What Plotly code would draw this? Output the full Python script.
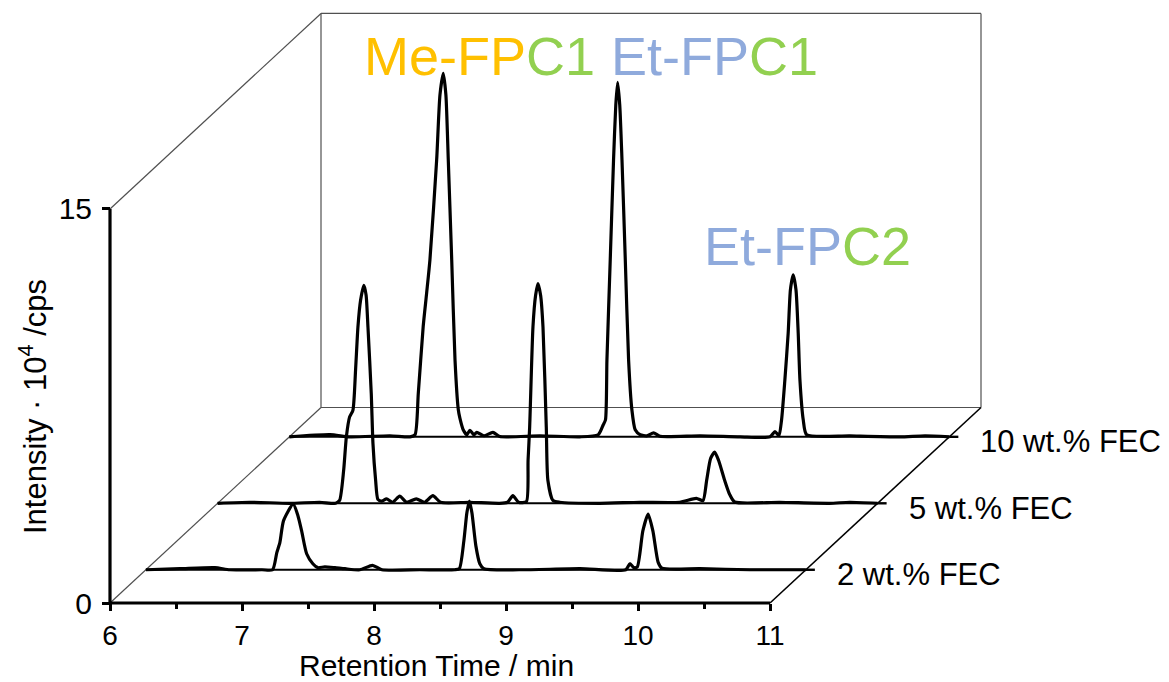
import plotly.graph_objects as go

# ---------------- data (retention time in min, intensity in 10^4 cps) ----------------
series_names = ["2 wt.% FEC", "5 wt.% FEC", "10 wt.% FEC"]
series_depth = [0.17, 0.51, 0.85]   # position along depth axis (fraction)

x_2 = [6.000, 6.258, 6.523, 6.636, 6.879, 6.960, 6.992, 7.015, 7.043, 7.116, 7.152, 7.180,
       7.218, 7.265, 7.303, 7.356, 7.432, 7.508, 7.621, 7.717, 7.788, 8.076, 8.341, 8.375,
       8.409, 8.432, 8.451, 8.470, 8.500, 8.530, 8.561, 8.833, 9.288, 9.636, 9.667, 9.697,
       9.723, 9.765, 9.805, 9.841, 9.881, 9.909, 10.197, 10.576, 11.000]
y_2 = [0.00, 0.04, 0.08, 0.00, 0.00, 0.00, 0.65, 1.03, 1.87, 2.50, 2.06, 1.48,
       0.61, 0.23, 0.08, 0.11, 0.08, 0.04, 0.00, 0.17, 0.00, 0.00, 0.00, 0.04,
       1.10, 2.17, 2.61, 2.17, 0.91, 0.23, 0.04, 0.00, 0.04, 0.00, 0.23, 0.08,
       0.11, 1.48, 2.12, 1.48, 0.28, 0.06, 0.04, 0.00, 0.00]

x_5 = [6.000, 6.242, 6.545, 6.773, 6.894, 6.924, 6.955, 6.975, 7.000, 7.025, 7.045, 7.063,
       7.083, 7.108, 7.125, 7.139, 7.164, 7.177, 7.197, 7.214, 7.242, 7.280, 7.326, 7.379,
       7.432, 7.505, 7.568, 7.631, 7.689, 7.909, 8.136, 8.197, 8.237, 8.280, 8.339, 8.352,
       8.364, 8.389, 8.409, 8.427, 8.447, 8.465, 8.490, 8.502, 8.540, 8.591, 8.894, 9.197,
       9.500, 9.627, 9.677, 9.705, 9.735, 9.765, 9.795, 9.841, 9.879, 9.917, 10.258, 10.636,
       10.788, 11.000]
y_5 = [0.00, 0.04, 0.00, 0.04, 0.00, 0.11, 1.26, 2.51, 3.29, 3.54, 5.06, 6.71,
       7.73, 8.30, 7.92, 6.71, 4.18, 2.27, 0.88, 0.15, 0.08, 0.17, 0.04, 0.27,
       0.04, 0.17, 0.04, 0.29, 0.04, 0.04, 0.00, 0.04, 0.29, 0.04, 0.06, 1.64,
       2.90, 6.71, 7.92, 8.36, 7.92, 6.71, 2.90, 0.88, 0.11, 0.04, 0.00, 0.04,
       0.04, 0.19, 0.10, 0.88, 1.71, 1.95, 1.64, 0.88, 0.34, 0.05, 0.04, 0.00,
       0.04, 0.00]

x_10 = [6.000, 6.308, 6.459, 6.762, 6.914, 6.952, 6.977, 7.014, 7.040, 7.065, 7.116, 7.141,
        7.166, 7.186, 7.204, 7.230, 7.255, 7.280, 7.292, 7.317, 7.345, 7.368, 7.398, 7.420,
        7.474, 7.542, 7.595, 7.898, 8.200, 8.340, 8.378, 8.395, 8.406, 8.431, 8.456, 8.473,
        8.487, 8.503, 8.520, 8.545, 8.570, 8.595, 8.620, 8.658, 8.711, 8.759, 8.809, 9.112,
        9.415, 9.642, 9.679, 9.709, 9.729, 9.754, 9.779, 9.796, 9.817, 9.838, 9.855, 9.868,
        9.893, 9.919, 10.247, 10.626, 10.816, 11.000]
y_10 = [0.00, 0.08, 0.00, 0.04, 0.00, 0.08, 1.66, 4.20, 5.47, 6.74, 10.54, 13.02,
        13.84, 13.02, 10.54, 6.74, 2.93, 1.03, 0.71, 0.27, 0.08, 0.25, 0.08, 0.17,
        0.04, 0.17, 0.01, 0.04, 0.00, 0.08, 0.46, 0.65, 2.93, 6.74, 10.54, 12.63,
        13.49, 12.63, 10.54, 6.74, 2.93, 1.03, 0.27, 0.08, 0.04, 0.15, 0.02, 0.04,
        0.00, 0.00, 0.20, 0.04, 0.65, 2.17, 3.95, 5.60, 6.17, 5.60, 3.95, 2.17,
        0.65, 0.08, 0.04, 0.00, 0.04, 0.00]

series_x = [x_2, x_5, x_10]
series_y = [y_2, y_5, y_10]

x_ticks = [6, 7, 8, 9, 10, 11]
x_minor = [6.5, 7.5, 8.5, 9.5, 10.5]
y_ticks = [0, 15]
X_MIN, X_MAX = 6, 11
Y_MIN, Y_MAX = 0, 15

# ---------------- pseudo-3D geometry ----------------
PX_PER_X = 132.0      # pixels per minute
PX_PER_Y = 26.27      # pixels per 10^4 cps
DEPTH_PX = (211.0, 195.5)   # screen offset of the full depth axis
DX = DEPTH_PX[0] / PX_PER_X
DY = DEPTH_PX[1] / PX_PER_Y

W, H = 1169, 682
ML, MR, MT, MB = 97, 179, 10, 69
x0_px = 110 - ML          # pixel distance of x=6 from left plot edge
y0_px = 613 - 603         # pixel distance of y=0 above bottom edge
xr = [X_MIN - x0_px / PX_PER_X, X_MIN - x0_px / PX_PER_X + (W - ML - MR) / PX_PER_X]
yr = [Y_MIN - y0_px / PX_PER_Y, Y_MIN - y0_px / PX_PER_Y + (H - MT - MB) / PX_PER_Y]

fig = go.Figure()

FONT = "Liberation Sans, Arial, sans-serif"

# back box / frame lines
thin = dict(color="#505050", width=1.2)
def seg(xa, ya, xb, yb, line, layer="below"):
    fig.add_shape(type="line", xref="x", yref="y", x0=xa, y0=ya, x1=xb, y1=yb,
                  line=line, layer=layer)

seg(X_MIN, Y_MIN, X_MIN + DX, Y_MIN + DY, thin)                 # left lower diagonal
seg(X_MIN, Y_MAX, X_MIN + DX, Y_MAX + DY, thin)                 # left upper diagonal
seg(X_MIN + DX, Y_MIN + DY, X_MIN + DX, Y_MAX + DY, thin)       # back left vertical
seg(X_MIN + DX, Y_MAX + DY, X_MAX + DX, Y_MAX + DY, thin)       # back top
seg(X_MIN + DX, Y_MIN + DY, X_MAX + DX, Y_MIN + DY, thin)       # back bottom
seg(X_MAX + DX, Y_MIN + DY, X_MAX + DX, Y_MAX + DY, thin)       # back right vertical
seg(X_MAX, Y_MIN, X_MAX + DX, Y_MIN + DY, dict(color="black", width=1.6))  # right diagonal

# series: baseline + trace, back to front
for name, d, xs, ys in reversed(list(zip(series_names, series_depth, series_x, series_y))):
    ox, oy = d * DX, d * DY
    fig.add_trace(go.Scatter(x=[X_MIN + ox, X_MAX + ox], y=[oy, oy], mode="lines",
                             line=dict(color="black", width=2.0), hoverinfo="skip",
                             showlegend=False))
    fig.add_trace(go.Scatter(x=[v + ox for v in xs], y=[v + oy for v in ys], mode="lines",
                             line=dict(color="black", width=3.2, shape="spline", smoothing=0.6),
                             name=name, showlegend=False))
    # depth-axis tick and label
    seg(X_MAX + ox, oy, X_MAX + ox + 9 / PX_PER_X, oy, dict(color="black", width=2.4), "above")
    fig.add_annotation(x=X_MAX + ox, y=oy, xref="x", yref="y", text=name, showarrow=False,
                       xanchor="left", yanchor="middle", xshift=29, yshift=-5,
                       font=dict(family=FONT, size=31, color="black"))

# front axes lines
seg(X_MIN, Y_MIN, X_MAX, Y_MIN, dict(color="black", width=3.2), "above")
seg(X_MIN, Y_MIN, X_MIN, Y_MAX, dict(color="black", width=3.2), "above")

# compound labels
ORANGE, GREEN, BLUE = "#FFC000", "#92D050", "#8FAADC"
def label(px_left, py_center, parts):
    txt = "".join(f'<span style="color:{c}">{t}</span>' for t, c in parts)
    fig.add_annotation(x=X_MIN + (px_left - 110) / PX_PER_X, y=(603 - py_center) / PX_PER_Y,
                       xref="x", yref="y", text=txt, showarrow=False, xanchor="left",
                       yanchor="middle", font=dict(family=FONT, size=54))
label(362, 56, [("Me-FP", ORANGE), ("C1", GREEN)])
label(609, 56, [("Et-FP", BLUE), ("C1", GREEN)])
label(702, 246, [("Et-FP", BLUE), ("C2", GREEN)])

# axis titles
fig.add_annotation(x=8.47, y=0, xref="x", yref="paper",
                   text="Retention Time / min", showarrow=False, xanchor="center",
                   yanchor="middle", yshift=-(665 - 613),
                   font=dict(family=FONT, size=30, color="black"))
fig.add_annotation(x=0, y=(603 - 407) / PX_PER_Y, xref="paper", yref="y",
                   text="Intensity · 10<sup>4</sup> /cps", showarrow=False, textangle=-90,
                   xanchor="center", yanchor="middle", xshift=-(ML - 33),
                   font=dict(family=FONT, size=31, color="black"))

fig.update_layout(
    width=W, height=H, margin=dict(l=ML, r=MR, t=MT, b=MB),
    paper_bgcolor="white", plot_bgcolor="white", showlegend=False,
    xaxis=dict(range=xr, anchor="free", position=(0 - yr[0]) / (yr[1] - yr[0]),
               showline=False, showgrid=False, zeroline=False,
               tickmode="array", tickvals=x_ticks, ticktext=[str(v) for v in x_ticks],
               ticks="outside", ticklen=7, tickwidth=2.5, tickcolor="black",
               minor=dict(tickmode="array", tickvals=x_minor, ticks="outside", ticklen=5,
                          tickwidth=2.5, tickcolor="black"),
               tickfont=dict(family=FONT, size=28, color="black")),
    yaxis=dict(range=yr, anchor="free", position=(X_MIN - xr[0]) / (xr[1] - xr[0]),
               showline=False, showgrid=False, zeroline=False,
               tickmode="array", tickvals=y_ticks, ticktext=[str(v) for v in y_ticks],
               ticks="outside", ticklen=8, tickwidth=2.5, tickcolor="black",
               ticklabelstandoff=4,
               tickfont=dict(family=FONT, size=30, color="black")),
)

fig.write_html("out.html", config={"displayModeBar": False},
               post_script="document.body.style.margin='0px';")
